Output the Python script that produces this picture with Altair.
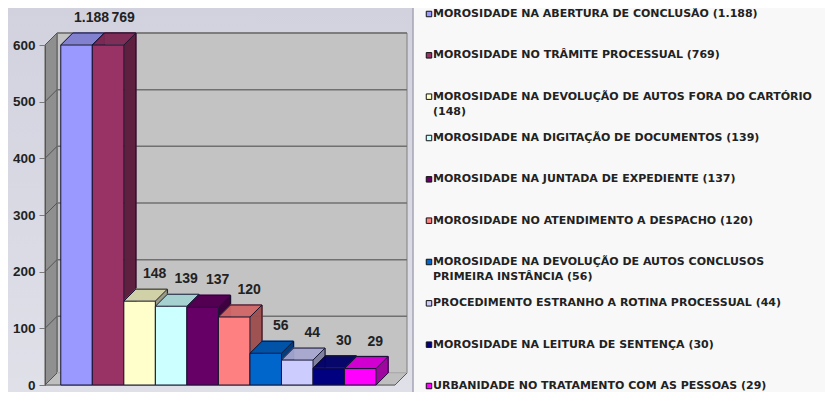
import textwrap
import altair as alt
import pandas as pd

# ---------------- data ----------------
categories = [
    "MOROSIDADE NA ABERTURA DE CONCLUSÃO",
    "MOROSIDADE NO TRÂMITE PROCESSUAL",
    "MOROSIDADE NA DEVOLUÇÃO DE AUTOS FORA DO CARTÓRIO",
    "MOROSIDADE NA DIGITAÇÃO DE DOCUMENTOS",
    "MOROSIDADE NA JUNTADA DE EXPEDIENTE",
    "MOROSIDADE NO ATENDIMENTO A DESPACHO",
    "MOROSIDADE NA DEVOLUÇÃO DE AUTOS CONCLUSOS PRIMEIRA INSTÂNCIA",
    "PROCEDIMENTO ESTRANHO A ROTINA PROCESSUAL",
    "MOROSIDADE NA LEITURA DE SENTENÇA",
    "URBANIDADE NO TRATAMENTO COM AS PESSOAS",
]
values = [1188, 769, 148, 139, 137, 120, 56, 44, 30, 29]
y_ticks = [0, 100, 200, 300, 400, 500, 600]
grid_levels = [0, 100, 200, 300, 400, 500, 600]
palette = ["#9999FF", "#993366", "#FFFFCC", "#CCFFFF", "#660066",
           "#FF8080", "#0066CC", "#CCCCFF", "#000080", "#FF00FF"]

# ---------------- layout constants ----------------
Y_MAX = 600
PLOT_W, PLOT_H = 780, 340
X_DOMAIN = [-0.5, 10.6]
X_RANGE = [0, 350]
D = 12  # 3D depth in px
kx = (X_RANGE[1] - X_RANGE[0]) / (X_DOMAIN[1] - X_DOMAIN[0])
ky = PLOT_H / Y_MAX
ux, uy = D / kx, D / ky
FONT = "Liberation Sans"
LEG_FONT = "DejaVu Sans"
EDGE = "#141430"


def shade(hexc, f):
    r, g, b = (int(hexc[i:i + 2], 16) for i in (1, 3, 5))
    return "#%02x%02x%02x" % (int(r * f), int(g * f), int(b * f))


def fmt(v):
    return f"{v:,}".replace(",", ".")


def off(j):
    return dict(xOffset=j, x2Offset=j, yOffset=-j, y2Offset=-j)


xs = alt.Scale(domain=X_DOMAIN, range=X_RANGE)
ys = alt.Scale(domain=[0, Y_MAX], nice=False)
yaxis = alt.Axis(values=y_ticks, title=None, grid=False, labelFontSize=13.5,
                 labelFontWeight="bold", labelColor="#222222", labelFont=FONT,
                 tickColor="#7a7a7a", tickSize=6, labelPadding=4,
                 domainColor="#555555", zindex=1)


def X(f):
    return alt.X(f, type="quantitative", scale=xs, axis=None)


def Y(f):
    return alt.Y(f, type="quantitative", scale=ys, axis=yaxis)


# bars table
bars = pd.DataFrame({"idx": list(range(len(values))), "cat": categories, "value": values})
bars["shown"] = bars["value"].clip(upper=Y_MAX)
bars["x0"] = bars["idx"].astype(float)
bars["x1"] = bars["x0"] + 1
bars["xc"] = bars["x0"] + 0.5
bars["zero"] = 0.0
bars["label"] = [fmt(v) for v in values]
bars["topc"] = [shade(c, 0.82) for c in palette]
bars["sidec"] = [shade(c, 0.62) for c in palette]
bars["x0d"] = bars["x0"] + ux
bars["x1d"] = bars["x1"] + ux
bars["shownd"] = bars["shown"] + uy
bars["zerod"] = uy

wall = pd.DataFrame({"xa": [X_DOMAIN[0]], "xb": [X_DOMAIN[1]], "y0": [0.0], "y1": [float(Y_MAX)]})
wall["xad"] = wall["xa"] + ux
wall["xbd"] = wall["xb"] + ux
wall["y0d"] = wall["y0"] + uy
wall["y1d"] = wall["y1"] + uy

grid = pd.DataFrame({"lvl": grid_levels})
grid["xa"] = X_DOMAIN[0]
grid["xb"] = X_DOMAIN[1]
grid["xad"] = X_DOMAIN[0] + ux
grid["lvld"] = grid["lvl"] + uy

one = pd.DataFrame({"a": [0]})

layers = []

# background panel (chart area) and separator
bg = alt.Chart(one).mark_rect(
    color=alt.Gradient(gradient="linear",
                       stops=[alt.GradientStop(color="#d2d2df", offset=0),
                              alt.GradientStop(color="#e0e0e9", offset=1)],
                       x1=0, x2=0, y1=0, y2=1)
).encode(x=alt.value(-37), x2=alt.value(368), y=alt.value(-37), y2=alt.value(347))
sep = alt.Chart(one).mark_rule(color="#a4a4b4", strokeWidth=1.5).encode(
    x=alt.value(368), y=alt.value(-37), y2=alt.value(347))
layers += [bg, sep]

# back wall
layers.append(alt.Chart(wall).mark_rect(fill="#c3c3c3", stroke="#7f7f7f", strokeWidth=1, **off(D))
              .encode(x=X("xa"), x2="xb", y=Y("y0"), y2="y1"))
# back wall grid
layers.append(alt.Chart(grid).mark_rule(color="#707070", strokeWidth=1.5, **off(D))
              .encode(x=X("xa"), x2="xb", y=Y("lvl")))
# left wall
for j in range(0, D + 1):
    layers.append(alt.Chart(wall).mark_rule(color="#8d8d8d", strokeWidth=1.6, strokeCap="butt", **off(j))
                  .encode(x=X("xa"), y=Y("y0"), y2="y1"))
layers.append(alt.Chart(wall).mark_rule(color="#5a5a5a", strokeWidth=1, **off(D))
              .encode(x=X("xa"), y=Y("y0"), y2="y1"))
# floor
for j in range(0, D + 1):
    layers.append(alt.Chart(wall).mark_rule(color="#bcbcbc", strokeWidth=1.6, strokeCap="butt", **off(j))
                  .encode(x=X("xa"), x2="xb", y=Y("y0")))
layers.append(alt.Chart(wall).mark_rule(color="#5a5a5a", strokeWidth=1)
              .encode(x=X("xb"), x2="xbd", y=Y("y0"), y2="y0d"))
layers.append(alt.Chart(wall).mark_rule(color="#5a5a5a", strokeWidth=1)
              .encode(x=X("xa"), x2="xb", y=Y("y0")))
# left wall diagonals (tick level lines)
layers.append(alt.Chart(grid).mark_rule(color="#555555", strokeWidth=1)
              .encode(x=X("xa"), x2="xad", y=Y("lvl"), y2="lvld"))

# bar side faces
for j in range(1, D + 1):
    layers.append(alt.Chart(bars).mark_rule(strokeWidth=1.6, strokeCap="butt", **off(j))
                  .encode(x=X("x1"), y=Y("shown"), y2="zero",
                          color=alt.Color("sidec:N", scale=None)))
# side back edges
layers.append(alt.Chart(bars).mark_rule(color=EDGE, strokeWidth=1, **off(D))
              .encode(x=X("x1"), y=Y("shown"), y2="zero"))
layers.append(alt.Chart(bars).mark_rule(color=EDGE, strokeWidth=1)
              .encode(x=X("x1"), x2="x1d", y=Y("zero"), y2="zerod"))
# bar top faces
for j in range(1, D + 1):
    layers.append(alt.Chart(bars).mark_rule(strokeWidth=1.6, strokeCap="butt", **off(j))
                  .encode(x=X("x0"), x2="x1", y=Y("shown"),
                          color=alt.Color("topc:N", scale=None)))
# top edges
layers.append(alt.Chart(bars).mark_rule(color=EDGE, strokeWidth=1, **off(D))
              .encode(x=X("x0"), x2="x1", y=Y("shown")))
layers.append(alt.Chart(bars).mark_rule(color=EDGE, strokeWidth=1)
              .encode(x=X("x0"), x2="x0d", y=Y("shown"), y2="shownd"))
layers.append(alt.Chart(bars).mark_rule(color=EDGE, strokeWidth=1)
              .encode(x=X("x1"), x2="x1d", y=Y("shown"), y2="shownd"))
# front faces
layers.append(alt.Chart(bars).mark_rect(stroke=EDGE, strokeWidth=1)
              .encode(x=X("x0"), x2="x1", y=Y("shown"), y2="zero",
                      color=alt.Color("cat:N", scale=alt.Scale(domain=categories, range=palette),
                                      legend=None)))
# value labels
layers.append(alt.Chart(bars).mark_text(dx=15, dy=-27, font=FONT, fontSize=14, fontWeight="bold",
                                        color="#222222", baseline="middle")
              .encode(x=X("xc"), y=Y("shown"), text="label"))

main = alt.layer(*layers)

# ---------------- legend ----------------
leg_rows = []
for i, (c, v) in enumerate(zip(categories, values)):
    lines = textwrap.wrap(f"{c} ({fmt(v)})", width=49)
    leg_rows.append({"idx": i, "cat": c, "l1": lines[0], "l2": " ".join(lines[1:])})
leg = pd.DataFrame(leg_rows)
ly = alt.Y("idx:Q", scale=alt.Scale(domain=[0, 9], range=[-31, 341]), axis=None)

markers = alt.Chart(leg).mark_square(size=30, filled=True, stroke="#111111", strokeWidth=1, opacity=1).encode(
    x=alt.value(384), y=ly,
    color=alt.Color("cat:N", scale=alt.Scale(domain=categories, range=palette), legend=None))
t1 = alt.Chart(leg).mark_text(align="left", baseline="middle", font=LEG_FONT, fontSize=11,
                              fontWeight="bold", color="#222222").encode(
    x=alt.value(388), y=ly, text="l1")
t2 = alt.Chart(leg).mark_text(align="left", baseline="middle", font=LEG_FONT, fontSize=11,
                              fontWeight="bold", color="#222222", dy=15).encode(
    x=alt.value(388), y=ly, text="l2")
legend = alt.layer(markers, t1, t2)

chart = alt.layer(main, legend).resolve_scale(
    x="independent", y="independent", color="independent"
).properties(
    width=PLOT_W, height=PLOT_H,
    padding={"left": 37, "top": 37, "right": 0, "bottom": 7},
    autosize=alt.AutoSizeParams(type="none"),
    background="#f8f8f8",
).configure_view(stroke=None)

chart.save("out.html", embed_options={"renderer": "svg", "actions": False})
